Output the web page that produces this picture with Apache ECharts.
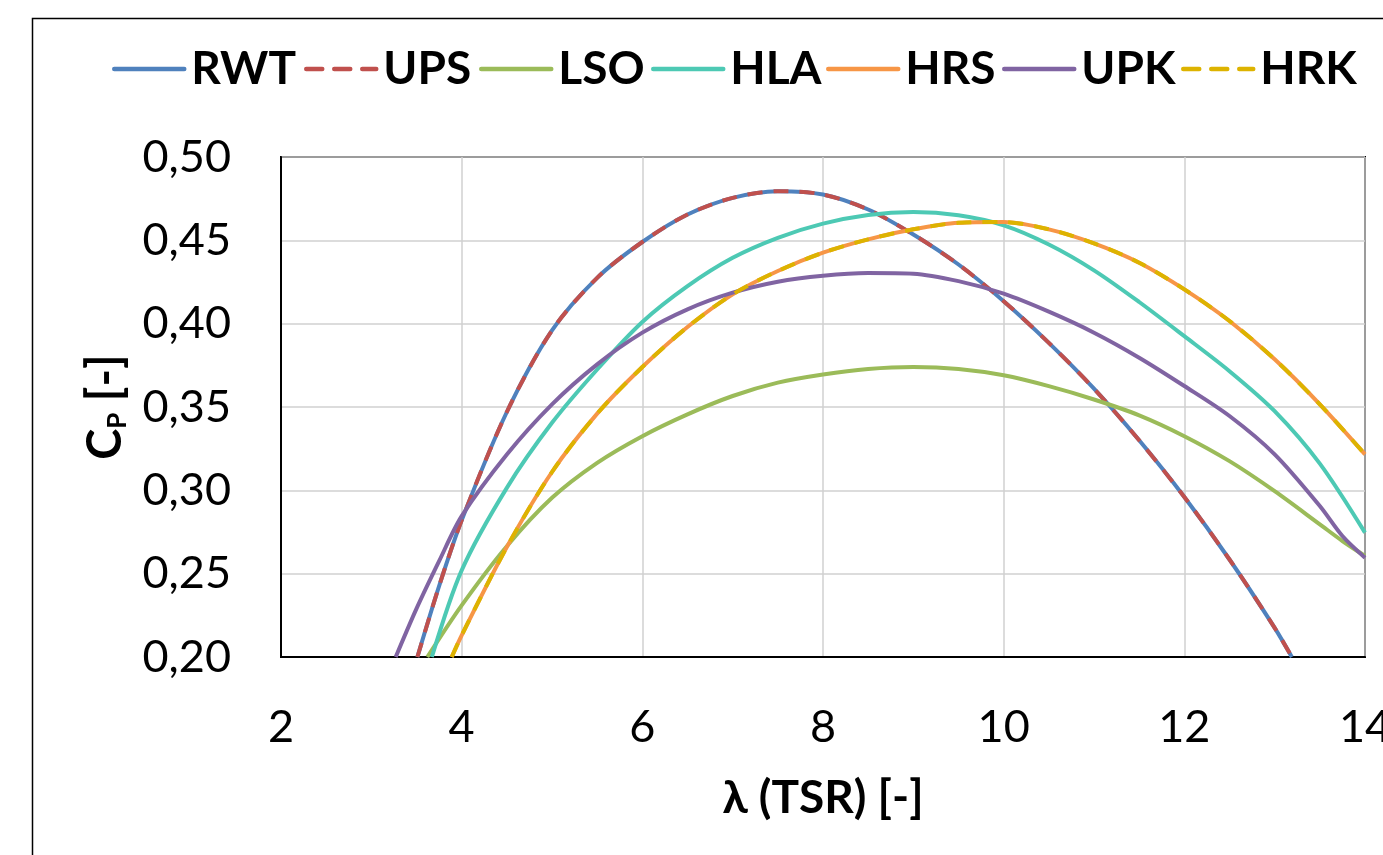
<!DOCTYPE html>
<html><head><meta charset="utf-8">
<script src="https://cdn.jsdelivr.net/npm/echarts@6/dist/echarts.min.js"></script>
<style>html,body{margin:0;padding:0;background:#fff;overflow:hidden}#c{width:1383px;height:855px}</style>
</head><body><div id="c"></div>
<script>
// ---- data ----
const seriesNames = ['RWT', 'UPS', 'LSO', 'HLA', 'HRS', 'UPK', 'HRK'];
const xTickValues = [2, 4, 6, 8, 10, 12, 14];
const yTickValues = [0.20, 0.25, 0.30, 0.35, 0.40, 0.45, 0.50];

const rwtX = [3.51, 3.75, 4, 4.5, 5, 5.5, 6, 6.5, 7, 7.5, 8, 8.5, 9, 9.5, 10, 10.5, 11, 11.5, 12, 12.5, 13, 13.19];
const rwtY = [0.200, 0.2425, 0.282, 0.347, 0.396, 0.4275, 0.449, 0.4655, 0.4755, 0.4795, 0.4775, 0.4685, 0.4535, 0.4355, 0.4135, 0.3885, 0.3610, 0.3300, 0.2960, 0.2585, 0.2175, 0.200];
const upsX = [3.51, 3.75, 4, 4.5, 5, 5.5, 6, 6.5, 7, 7.5, 8, 8.5, 9, 9.5, 10, 10.5, 11, 11.5, 12, 12.5, 13, 13.19];
const upsY = [0.200, 0.2425, 0.282, 0.347, 0.396, 0.4275, 0.449, 0.4655, 0.4755, 0.4795, 0.4775, 0.4685, 0.4535, 0.4355, 0.4135, 0.3885, 0.3610, 0.3300, 0.2960, 0.2585, 0.2175, 0.200];
const lsoX = [3.62, 4, 4.5, 5, 5.5, 6, 6.5, 7, 7.5, 8, 8.5, 9, 9.5, 10, 10.5, 11, 11.5, 12, 12.5, 13, 13.5, 13.75, 14];
const lsoY = [0.200, 0.231, 0.2665, 0.2955, 0.3165, 0.3325, 0.3456, 0.3566, 0.3646, 0.3695, 0.3728, 0.3740, 0.3728, 0.3690, 0.3625, 0.3545, 0.3450, 0.3325, 0.3175, 0.2995, 0.2796, 0.2696, 0.2606];
const hlaX = [3.67, 4, 4.5, 5, 5.5, 6, 6.5, 7, 7.5, 8, 8.5, 9, 9.5, 10, 10.5, 11, 11.5, 12, 12.5, 13, 13.5, 14];
const hlaY = [0.200, 0.252, 0.3015, 0.3405, 0.3725, 0.401, 0.4225, 0.4395, 0.4515, 0.4600, 0.4652, 0.4670, 0.4650, 0.4590, 0.4475, 0.4320, 0.4130, 0.3925, 0.3715, 0.3475, 0.3160, 0.2746];
const hrsX = [3.89, 4, 4.5, 5, 5.5, 6, 6.5, 7, 7.5, 8, 8.5, 9, 9.5, 10, 10.5, 11, 11.5, 12, 12.5, 13, 13.5, 14];
const hrsY = [0.200, 0.213, 0.266, 0.311, 0.346, 0.374, 0.398, 0.4176, 0.4316, 0.4426, 0.4506, 0.4566, 0.4605, 0.4610, 0.4566, 0.4482, 0.4366, 0.4206, 0.4016, 0.3786, 0.3516, 0.3216];
const upkX = [3.27, 3.5, 3.75, 4, 4.5, 5, 5.5, 6, 6.5, 7, 7.5, 8, 8.5, 9, 9.5, 10, 10.5, 11, 11.5, 12, 12.5, 13, 13.5, 13.75, 14];
const upkY = [0.200, 0.2290, 0.2575, 0.2845, 0.3215, 0.3516, 0.3756, 0.3946, 0.4086, 0.4186, 0.4252, 0.4288, 0.4304, 0.4300, 0.4255, 0.4180, 0.4072, 0.3946, 0.3796, 0.3626, 0.3446, 0.3216, 0.2906, 0.2726, 0.2596];
const hrkX = [3.89, 4, 4.5, 5, 5.5, 6, 6.5, 7, 7.5, 8, 8.5, 9, 9.5, 10, 10.5, 11, 11.5, 12, 12.5, 13, 13.5, 14];
const hrkY = [0.200, 0.213, 0.266, 0.311, 0.346, 0.374, 0.398, 0.4176, 0.4316, 0.4426, 0.4506, 0.4566, 0.4605, 0.4610, 0.4566, 0.4482, 0.4366, 0.4206, 0.4016, 0.3786, 0.3516, 0.3216];

// ---- styles ----
const FONT = 'Lato';
const colors = ['#4F81BD', '#C0504D', '#9BBB59', '#4DC9B4', '#F79646', '#8064A2', '#DDB300'];
const dashed = [false, true, false, false, false, false, true];
const legendLefts = [112, 304, 479, 651, 826, 1002, 1181];
const xs = [rwtX, upsX, lsoX, hlaX, hrsX, upkX, hrkX];
const ys = [rwtY, upsY, lsoY, hlaY, hrsY, upkY, hrkY];

const zip = (a, b) => a.map((v, i) => [v, b[i]]);

const chart = echarts.init(document.getElementById('c'), null, {renderer: 'canvas', width: 1383, height: 855});
chart.setOption({
  animation: false,
  backgroundColor: '#fff',
  graphic: [{
    type: 'rect', left: 30, top: 16, shape: {width: 1400, height: 900},
    style: {fill: 'none', stroke: '#000', lineWidth: 1.5}, silent: true
  }],
  legend: seriesNames.map((n, i) => ({
    data: [n], left: legendLefts[i], top: 46, padding: 0, itemWidth: 70, itemHeight: 14,
    selectedMode: false,
    itemStyle: {opacity: 0},
    lineStyle: {width: 4.5, type: dashed[i] ? [16, 12] : 'solid', cap: 'round'},
    textStyle: {fontFamily: FONT, fontWeight: 'bold', fontSize: 46, color: '#000', padding: [0, 0, 0, 2]}
  })),
  grid: {left: 281, right: 18, top: 157, bottom: 198, show: true, borderColor: '#000', borderWidth: 2,
    containLabel: false, outerBoundsMode: 'none'},
  xAxis: {
    type: 'value', min: xTickValues[0], max: xTickValues[xTickValues.length - 1], interval: 2,
    name: 'λ (TSR) [-]', nameLocation: 'middle', nameGap: 118,
    nameTextStyle: {fontFamily: FONT, fontWeight: 'bold', fontSize: 46, color: '#000'},
    axisLine: {show: true, lineStyle: {color: '#000', width: 2}},
    axisTick: {show: false},
    axisLabel: {fontFamily: FONT, fontSize: 45, color: '#000', margin: 48, hideOverlap: false},
    splitLine: {show: true, lineStyle: {color: '#D0D0D0', width: 1.5}}
  },
  yAxis: {
    type: 'value', min: yTickValues[0], max: yTickValues[yTickValues.length - 1], interval: 0.05,
    name: '{c|C}{p|P}{c| [-]}', nameLocation: 'middle', nameGap: 150, nameRotate: 90,
    nameTextStyle: {
      fontFamily: FONT, fontWeight: 'bold', fontSize: 46, color: '#000',
      rich: {
        c: {fontFamily: FONT, fontWeight: 'bold', fontSize: 47, color: '#000', lineHeight: 50},
        p: {fontFamily: FONT, fontWeight: 'bold', fontSize: 26, color: '#000', verticalAlign: 'bottom', lineHeight: 14}
      }
    },
    axisLine: {show: true, lineStyle: {color: '#000', width: 2}},
    axisTick: {show: false},
    axisLabel: {fontFamily: FONT, fontSize: 45, color: '#000', margin: 50,
      formatter: v => v.toFixed(2).replace('.', ',')},
    splitLine: {show: true, lineStyle: {color: '#D0D0D0', width: 1.5}}
  },
  series: seriesNames.map((n, i) => ({
    name: n, type: 'line', data: zip(xs[i], ys[i]),
    showSymbol: false, symbol: 'none', smooth: 0.3,
    itemStyle: {color: colors[i]},
    lineStyle: {color: colors[i], width: 4, type: dashed[i] ? [15, 11] : 'solid'},
    z: 2 + i
  }))
});
</script>
</body></html>
